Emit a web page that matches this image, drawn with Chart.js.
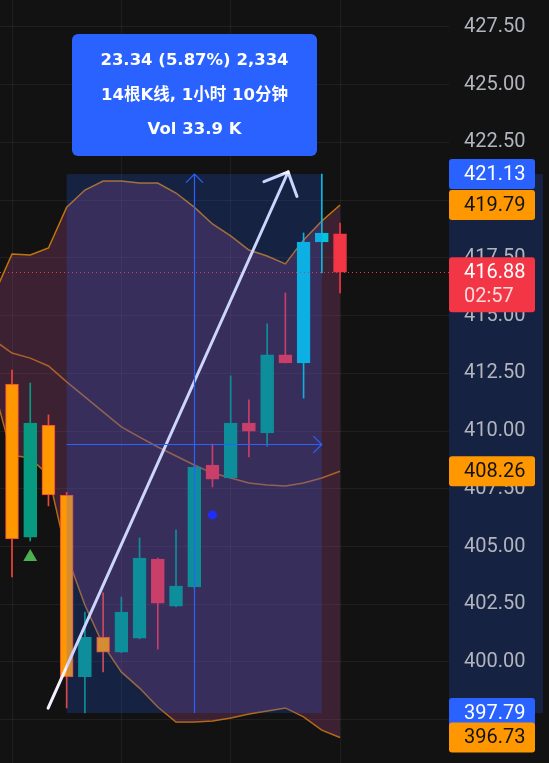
<!DOCTYPE html>
<html>
<head>
    <title>Medición de rango</title>
    <script src="https://cdn.jsdelivr.net/npm/chart.js"></script>
    <style>
        html, body { margin: 0; padding: 0; background: #121212; }
        #wrap { width: 549px; height: 763px; position: relative; }
    </style>
</head>
<body>
    <div id="wrap"><canvas id="priceChart"></canvas></div>

    <script>
        // Velas visibles (barra 0 = primera a la izquierda)
        var opens  = [412.04, 405.41, 410.26, 407.23, 399.35, 401.08, 400.43, 401.03, 404.46, 402.42, 403.25, 408.53, 407.97, 410.35, 409.92, 413.30, 412.95, 418.19, 418.54];
        var highs  = [412.64, 412.08, 410.70, 407.35, 402.16, 402.99, 402.81, 405.37, 404.50, 405.72, 408.50, 409.44, 412.39, 411.35, 414.64, 415.98, 418.58, 421.13, 419.01];
        var lows   = [403.68, 405.24, 406.76, 398.01, 397.79, 399.57, 400.40, 401.00, 400.56, 402.40, 403.20, 407.58, 407.95, 408.88, 409.35, 412.95, 411.43, 416.85, 415.98];
        var closes = [405.33, 410.35, 407.23, 399.35, 401.08, 400.43, 402.16, 404.50, 402.55, 403.29, 408.44, 407.92, 410.35, 410.00, 413.30, 412.95, 418.19, 418.58, 416.88];
        var candleTone = ['warn', 'up', 'warn', 'warn', 'up', 'warn', 'up', 'up', 'down', 'up', 'up', 'down', 'up', 'down', 'up', 'down', 'hot', 'hot', 'down'];

        // Bandas de Bollinger (empiezan una barra antes de la primera vela)
        var bandFirstBar = -1;
        var bbUpper = [415.89, 417.67, 417.63, 417.93, 419.70, 420.44, 420.83, 420.83, 420.74, 420.74, 420.31, 419.70, 418.97, 418.45, 417.84, 417.58, 417.24, 418.28, 419.10, 419.79];
        var bbBasis = [413.94, 413.38, 413.16, 412.82, 412.13, 411.48, 410.83, 410.18, 409.74, 409.31, 408.92, 408.53, 408.18, 407.97, 407.75, 407.66, 407.62, 407.75, 407.97, 408.26];
        var bbLower = [411.87, 408.96, 408.83, 408.10, 404.63, 402.47, 400.74, 399.57, 398.87, 398.05, 397.40, 397.40, 397.44, 397.57, 397.75, 397.88, 398.01, 397.62, 397.05, 396.73];

        // Señales
        var signalUp = { bar: 1, price: 404.55 };
        var signalDot = { bar: 11, price: 406.37 };

        // Herramienta de medición y flecha dibujada
        var measureStart = { bar: 3, price: 397.79 };
        var measureEnd = { bar: 17, price: 421.13 };
        var measureText = ['23.34 (5.87%) 2,334', '14根K线, 1小时 10分钟', 'Vol 33.9 K'];
        var arrowStart = { bar: 1.98, price: 398.0 };
        var arrowEnd = { bar: 15.15, price: 421.22 };

        // Eje de precios
        var lastPrice = 416.88;
        var countdown = '02:57';
        var yTickStep = 2.5;
        var axisLabelPrices = [421.13, 419.79, 416.88, 408.26, 397.79, 396.73];
        var axisLabelTones = ['blue', 'orange', 'red', 'orange', 'blue', 'orange'];

        // Rango visible
        var viewBars = [-0.659, 23.98];
        var viewPrices = [395.625, 428.669];

        var tones = {
            up:   { fill: '#089981', line: '#089981' },
            down: { fill: '#f23645', line: '#f23645' },
            warn: { fill: '#ff9800', line: '#f2453a' },
            hot:  { fill: '#05c3dc', line: '#05c3dc' }
        };
        var labelTones = {
            blue:   { bg: '#2962ff', fg: '#ffffff' },
            orange: { bg: '#ff9800', fg: '#131313' },
            red:    { bg: '#f23645', fg: '#ffffff' }
        };

        var bodies = [], wicks = [];
        for (var i = 0; i < opens.length; i++) {
            bodies.push({ x: i, y: [opens[i], closes[i]] });
            wicks.push({ x: i, y: [lows[i], highs[i]] });
        }
        function bandPoints(values) {
            return values.map(function (v, k) { return { x: bandFirstBar + k, y: v }; });
        }
        function toneOf(key) {
            return function (c) { return tones[candleTone[c.dataIndex]][key]; };
        }
        function noPadding(s) {
            s.paddingTop = 0; s.paddingBottom = 0; s.paddingLeft = 0; s.paddingRight = 0;
        }

        function arrowHead(c, x, y, back, len, spread) {
            c.beginPath();
            c.moveTo(x + Math.cos(back - spread) * len, y + Math.sin(back - spread) * len);
            c.lineTo(x, y);
            c.lineTo(x + Math.cos(back + spread) * len, y + Math.sin(back + spread) * len);
            c.stroke();
        }

        var measurePlugin = {
            id: 'measure',
            beforeDraw: function (chart) {
                var c = chart.ctx, a = chart.chartArea, ys = chart.scales.y;
                c.save();
                c.fillStyle = '#121212';
                c.fillRect(0, 0, chart.width, chart.height);
                var t = ys.getPixelForValue(measureEnd.price), b = ys.getPixelForValue(measureStart.price);
                c.fillStyle = 'rgba(41, 98, 255, 0.2)';
                c.fillRect(a.right, t, 94, b - t);
                c.restore();
            },
            afterDatasetsDraw: function (chart) {
                var c = chart.ctx, a = chart.chartArea, xs = chart.scales.x, ys = chart.scales.y;
                c.save();
                c.beginPath();
                c.rect(a.left, a.top, a.right - a.left, a.bottom - a.top);
                c.clip();

                // línea de último precio
                var py = Math.round(ys.getPixelForValue(lastPrice)) + 0.5;
                c.strokeStyle = '#f23645';
                c.lineWidth = 1;
                c.setLineDash([1, 3]);
                c.beginPath(); c.moveTo(a.left, py); c.lineTo(a.right, py); c.stroke();
                c.setLineDash([]);

                // flecha blanca
                var x1 = xs.getPixelForValue(arrowStart.bar), y1 = ys.getPixelForValue(arrowStart.price);
                var x2 = xs.getPixelForValue(arrowEnd.bar), y2 = ys.getPixelForValue(arrowEnd.price);
                c.strokeStyle = '#f4f2ff';
                c.lineWidth = 3;
                c.lineCap = 'round';
                c.beginPath(); c.moveTo(x1, y1); c.lineTo(x2, y2); c.stroke();
                arrowHead(c, x2, y2, Math.atan2(y1 - y2, x1 - x2), 26, 0.77);

                // caja de medición
                var bx1 = xs.getPixelForValue(measureStart.bar), bx2 = xs.getPixelForValue(measureEnd.bar);
                var by1 = ys.getPixelForValue(measureEnd.price), by2 = ys.getPixelForValue(measureStart.price);
                c.fillStyle = 'rgba(41, 98, 255, 0.2)';
                c.fillRect(bx1, by1, bx2 - bx1, by2 - by1);

                var mx = Math.round(xs.getPixelForValue((measureStart.bar + measureEnd.bar) / 2)) + 0.5;
                var my = Math.round(ys.getPixelForValue((measureStart.price + measureEnd.price) / 2)) + 0.5;
                c.strokeStyle = '#2962ff';
                c.lineWidth = 1.2;
                c.lineCap = 'butt';
                c.beginPath(); c.moveTo(mx, by2); c.lineTo(mx, by1); c.stroke();
                arrowHead(c, mx, by1, Math.PI / 2, 12, 0.78);
                c.beginPath(); c.moveTo(bx1, my); c.lineTo(bx2, my); c.stroke();
                arrowHead(c, bx2, my, Math.PI, 12, 0.78);
                c.restore();

                // etiqueta de la medición
                var w = 245, h = 122;
                var tx = mx - w / 2, ty = by1 - 18 - h;
                c.save();
                c.fillStyle = '#2962ff';
                c.beginPath(); c.roundRect(tx, ty, w, h, 6); c.fill();
                c.fillStyle = '#ffffff';
                c.font = 'bold 16.5px "DejaVu Sans", "Noto Sans CJK SC", sans-serif';
                c.textAlign = 'center';
                c.textBaseline = 'middle';
                measureText.forEach(function (line, k) {
                    c.fillText(line, tx + w / 2, ty + 27 + k * 34.5);
                });
                c.restore();
            },
            afterDraw: function (chart) {
                var c = chart.ctx, a = chart.chartArea, ys = chart.scales.y;
                c.save();
                c.font = '20px Roboto, sans-serif';
                c.textAlign = 'left';
                c.textBaseline = 'middle';
                axisLabelPrices.forEach(function (p, k) {
                    var py = ys.getPixelForValue(p);
                    var tone = labelTones[axisLabelTones[k]];
                    var isLast = p === lastPrice;
                    c.fillStyle = tone.bg;
                    c.beginPath(); c.roundRect(a.right, py - 15, 86, isLast ? 55 : 30, 3); c.fill();
                    c.fillStyle = tone.fg;
                    c.fillText(p.toFixed(2), a.right + 15, py + 1);
                    if (isLast) {
                        c.fillStyle = 'rgba(255, 235, 238, 0.9)';
                        c.fillText(countdown, a.right + 15, py + 25);
                    }
                });
                c.restore();
            }
        };

        var ctx = document.getElementById('priceChart').getContext('2d');

        var priceChart = new Chart(ctx, {
            type: 'bar',
            data: {
                datasets: [
                    {
                        type: 'line', label: 'BB superior', data: bandPoints(bbUpper), order: 5,
                        borderColor: 'rgba(255, 152, 0, 0.72)', borderWidth: 1.5, pointRadius: 0,
                        fill: '+2', backgroundColor: 'rgba(140, 62, 112, 0.35)'
                    },
                    {
                        type: 'line', label: 'BB media', data: bandPoints(bbBasis), order: 5,
                        borderColor: 'rgba(255, 152, 0, 0.72)', borderWidth: 1.5, pointRadius: 0, fill: false
                    },
                    {
                        type: 'line', label: 'BB inferior', data: bandPoints(bbLower), order: 5,
                        borderColor: 'rgba(255, 152, 0, 0.72)', borderWidth: 1.5, pointRadius: 0, fill: false
                    },
                    {
                        label: 'Mechas', data: wicks, order: 3, barThickness: 1,
                        backgroundColor: toneOf('line'), borderWidth: 0
                    },
                    {
                        label: 'Cuerpos', data: bodies, order: 2, barThickness: 13,
                        backgroundColor: toneOf('fill'), borderColor: toneOf('line'),
                        borderWidth: 1, borderSkipped: false
                    },
                    {
                        type: 'scatter', label: 'Señal', data: [{ x: signalUp.bar, y: signalUp.price }], order: 1,
                        pointStyle: 'triangle', pointRadius: 8, backgroundColor: '#4caf50', borderWidth: 0
                    },
                    {
                        type: 'scatter', label: 'Punto', data: [{ x: signalDot.bar, y: signalDot.price }], order: 1,
                        pointRadius: 4.5, backgroundColor: '#1f1fff', borderWidth: 0
                    }
                ]
            },
            options: {
                responsive: true,
                maintainAspectRatio: false,
                animation: false,
                layout: { padding: 0, autoPadding: false },
                plugins: { legend: { display: false }, tooltip: { enabled: false } },
                datasets: { bar: { grouped: false } },
                scales: {
                    x: {
                        type: 'linear',
                        offset: false,
                        min: viewBars[0],
                        max: viewBars[1],
                        afterFit: function (s) { s.height = 0; noPadding(s); },
                        ticks: { display: false, stepSize: 6, includeBounds: false },
                        grid: { color: 'rgba(255, 255, 255, 0.06)', drawTicks: false, offset: false },
                        border: { display: false }
                    },
                    y: {
                        position: 'right',
                        min: viewPrices[0],
                        max: viewPrices[1],
                        afterFit: function (s) { s.width = 100; noPadding(s); },
                        ticks: {
                            stepSize: yTickStep,
                            includeBounds: false,
                            padding: 15,
                            color: '#b2b5be',
                            font: { family: 'Roboto', size: 20 },
                            callback: function (v) { return v.toFixed(2); }
                        },
                        grid: { color: 'rgba(255, 255, 255, 0.06)', drawTicks: false },
                        border: { display: false }
                    }
                }
            },
            plugins: [measurePlugin]
        });
    </script>
</body>
</html>
